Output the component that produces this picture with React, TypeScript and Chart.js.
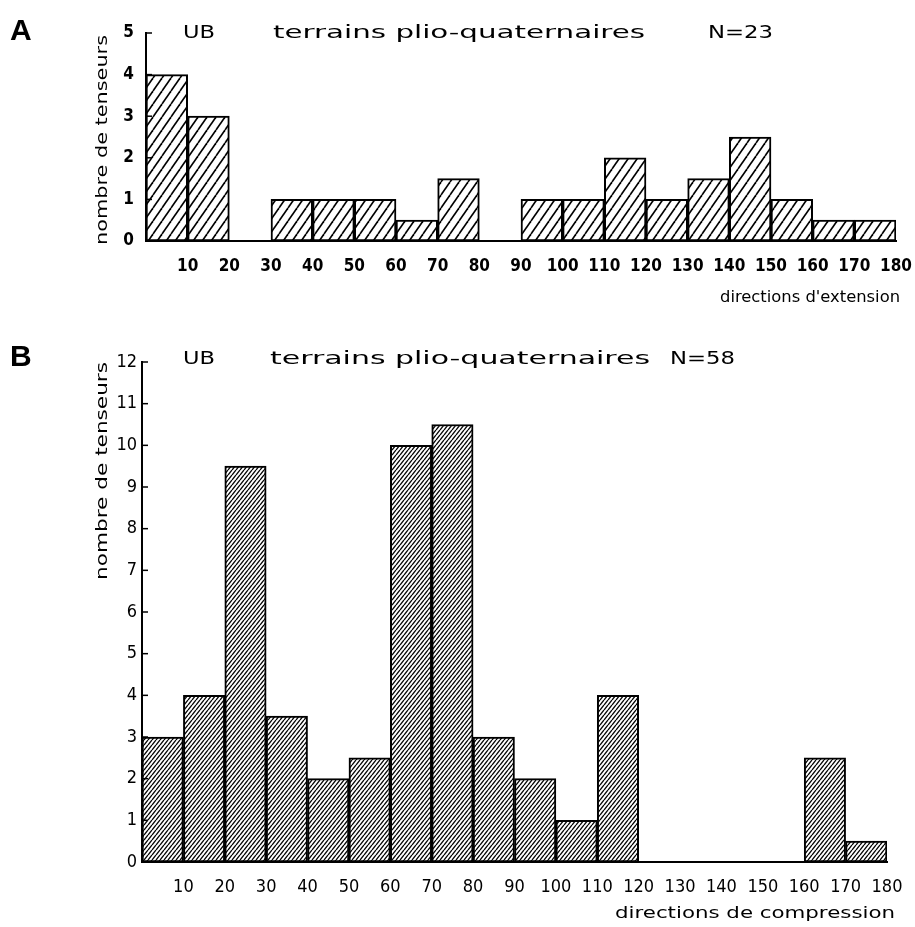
import React, { useEffect, useRef } from 'react';
import { Chart, registerables } from 'chart.js';

Chart.register(...registerables);

// ---------- data ----------
const binCentres = [5, 15, 25, 35, 45, 55, 65, 75, 85, 95, 105, 115, 125, 135, 145, 155, 165, 175];
const extensionCounts = [4, 3, 0, 1, 1, 1, 0.5, 1.5, 0, 1, 1, 2, 1, 1.5, 2.5, 1, 0.5, 0.5];
const compressionCounts = [3, 4, 9.5, 3.5, 2, 2.5, 10, 10.5, 3, 2, 1, 4, 0, 0, 0, 0, 2.5, 0.5];
const xTickLabels = ['10', '20', '30', '40', '50', '60', '70', '80', '90', '100', '110', '120', '130', '140', '150', '160', '170', '180'];
const yMaxA = 5;
const yMaxB = 12;
const headerA = ['UB', 'terrains plio-quaternaires', 'N=23'];
const headerB = ['UB', 'terrains plio-quaternaires', 'N=58'];
const yAxisTitle = 'nombre de tenseurs';
const xTitleA = "directions d'extension";
const xTitleB = 'directions de compression';

// ---------- layout / style ----------
type Spec = {
  letter: string;
  counts: number[];
  yMax: number;
  header: string[];
  xTitle: string;
  top: number;
  height: number;
  area: { left: number; right: number; top: number; bottom: number };
  yTickPad: number;
  xTickPad: number;
  tickWeight: string;
  xTickSize: number;
  yTickSize: number;
  hatch: { w: number; h: number; lw: number };
  letterPos: { x: number; y: number };
  headerPos: { x: number; w: number }[];
  headerY: number;
  yTitlePos: { x: number; top: number; w: number };
  xTitlePos: { right: number; y: number; w: number };
};

const specA: Spec = {
  letter: 'A',
  counts: extensionCounts,
  yMax: yMaxA,
  header: headerA,
  xTitle: xTitleA,
  top: 0,
  height: 320,
  area: { left: 146, right: 896, top: 33, bottom: 241 },
  yTickPad: 12,
  xTickPad: 15,
  tickWeight: 'bold',
  xTickSize: 17,
  yTickSize: 17,
  hatch: { w: 9, h: 13, lw: 1.6 },
  letterPos: { x: 10, y: 40 },
  headerPos: [{ x: 183, w: 32 }, { x: 273, w: 372 }, { x: 708, w: 65 }],
  headerY: 38,
  yTitlePos: { x: 103, top: 35, w: 210 },
  xTitlePos: { right: 900, y: 302, w: 180 },
};

const specB: Spec = {
  letter: 'B',
  counts: compressionCounts,
  yMax: yMaxB,
  header: headerB,
  xTitle: xTitleB,
  top: 320,
  height: 607,
  area: { left: 142, right: 887, top: 42, bottom: 542 },
  yTickPad: 5,
  xTickPad: 15,
  tickWeight: 'normal',
  xTickSize: 18,
  yTickSize: 18,
  hatch: { w: 4, h: 5, lw: 1.3 },
  letterPos: { x: 10, y: 46 },
  headerPos: [{ x: 183, w: 32 }, { x: 270, w: 380 }, { x: 670, w: 65 }],
  headerY: 44,
  yTitlePos: { x: 103, top: 42, w: 218 },
  xTitlePos: { right: 895, y: 598, w: 280 },
};

const TEXT_FONT = '"DejaVu Sans", "Liberation Sans", sans-serif';
const TICK_FONT = '"Liberation Sans Narrow", "DejaVu Sans Condensed", "Liberation Sans", sans-serif';

function makeHatch(w: number, h: number, lw: number): CanvasPattern | string {
  const c = document.createElement('canvas');
  c.width = w;
  c.height = h;
  const g = c.getContext('2d');
  if (!g) return '#888';
  g.fillStyle = '#fff';
  g.fillRect(0, 0, w, h);
  g.strokeStyle = '#000';
  g.lineWidth = lw;
  for (const dx of [-w, 0, w]) {
    g.beginPath();
    g.moveTo(dx, h);
    g.lineTo(dx + w, 0);
    g.stroke();
  }
  const p = g.createPattern(c, 'repeat');
  return p || '#888';
}

// draw text stretched horizontally to a target width (wide plotter-style lettering)
function drawFitted(ctx: CanvasRenderingContext2D, text: string, x: number, y: number, width: number) {
  const m = ctx.measureText(text).width || 1;
  ctx.save();
  ctx.translate(x, y);
  ctx.scale(width / m, 1);
  ctx.fillText(text, 0, 0);
  ctx.restore();
}

function makeConfig(spec: Spec): any {
  const pattern = makeHatch(spec.hatch.w, spec.hatch.h, spec.hatch.lw);
  const annotate = {
    id: 'annotate' + spec.letter,
    afterDraw(chart: any) {
      const ctx: CanvasRenderingContext2D = chart.ctx;
      const area = chart.chartArea;
      const yScale = chart.scales.y;
      ctx.save();
      // inward y tick marks
      ctx.strokeStyle = '#000';
      ctx.lineWidth = 1.5;
      for (const t of yScale.ticks) {
        const py = yScale.getPixelForValue(t.value);
        ctx.beginPath();
        ctx.moveTo(area.left, py);
        ctx.lineTo(area.left + 6, py);
        ctx.stroke();
      }
      ctx.fillStyle = '#000';
      ctx.textBaseline = 'alphabetic';
      ctx.textAlign = 'left';
      // panel letter
      ctx.font = 'bold 30px "Liberation Sans", Arial, sans-serif';
      ctx.fillText(spec.letter, spec.letterPos.x, spec.letterPos.y);
      // header
      ctx.font = '18px ' + TEXT_FONT;
      spec.header.forEach((txt, i) => {
        const p = spec.headerPos[i];
        drawFitted(ctx, txt, p.x, spec.headerY, p.w);
      });
      // x title
      ctx.font = '16px ' + TEXT_FONT;
      drawFitted(ctx, spec.xTitle, spec.xTitlePos.right - spec.xTitlePos.w, spec.xTitlePos.y, spec.xTitlePos.w);
      // y title (rotated)
      ctx.save();
      ctx.translate(spec.yTitlePos.x, spec.yTitlePos.top + spec.yTitlePos.w);
      ctx.rotate(-Math.PI / 2);
      ctx.textBaseline = 'middle';
      ctx.font = '16px ' + TEXT_FONT;
      drawFitted(ctx, yAxisTitle, 0, 0, spec.yTitlePos.w);
      ctx.restore();
      ctx.restore();
    },
  };

  const W = 915;
  return {
    type: 'bar',
    data: {
      datasets: [
        {
          data: spec.counts.map((c, i) => ({ x: binCentres[i], y: c })),
          backgroundColor: pattern,
          borderColor: '#000',
          borderWidth: 2,
          borderSkipped: false,
          barPercentage: 1,
          categoryPercentage: 1,
        },
      ],
    },
    options: {
      animation: false,
      responsive: false,
      maintainAspectRatio: false,
      events: [],
      layout: {
        padding: { left: 0, top: spec.area.top, right: W - spec.area.right, bottom: 0 },
      },
      plugins: {
        legend: { display: false },
        tooltip: { enabled: false },
        title: { display: false },
      },
      scales: {
        x: {
          type: 'linear',
          min: 0,
          max: 180,
          offset: false,
          grid: { display: false, drawTicks: false, offset: false },
          border: { display: true, color: '#000', width: 2 },
          ticks: {
            stepSize: 10,
            autoSkip: false,
            maxRotation: 0,
            minRotation: 0,
            color: '#000',
            padding: spec.xTickPad,
            font: { family: TICK_FONT, size: spec.xTickSize, weight: spec.tickWeight },
            callback: (v: number) => {
              const s = String(v);
              return xTickLabels.includes(s) ? s : '';
            },
          },
          afterFit: (s: any) => {
            s.height = spec.height - spec.area.bottom;
            s.paddingLeft = 0;
            s.paddingRight = 0;
          },
        },
        y: {
          min: 0,
          max: spec.yMax,
          grid: { display: false, drawTicks: false },
          border: { display: true, color: '#000', width: 2 },
          ticks: {
            stepSize: 1,
            autoSkip: false,
            color: '#000',
            padding: spec.yTickPad,
            font: { family: TICK_FONT, size: spec.yTickSize, weight: spec.tickWeight },
          },
          afterFit: (s: any) => {
            s.width = spec.area.left;
            s.paddingTop = 0;
            s.paddingBottom = 0;
          },
        },
      },
    },
    plugins: [annotate],
  };
}

function Panel({ spec }: { spec: Spec }) {
  const ref = useRef<HTMLCanvasElement>(null);
  useEffect(() => {
    if (!ref.current) return;
    const chart = new Chart(ref.current, makeConfig(spec));
    return () => chart.destroy();
  }, [spec]);
  return (
    <canvas
      ref={ref}
      width={915}
      height={spec.height}
      style={{ position: 'absolute', left: 0, top: spec.top, width: 915, height: spec.height, display: 'block' }}
    />
  );
}

export default function App() {
  return (
    <div style={{ position: 'absolute', left: 0, top: 0, width: 915, height: 927, background: '#fff', overflow: 'hidden' }}>
      <Panel spec={specA} />
      <Panel spec={specB} />
    </div>
  );
}
